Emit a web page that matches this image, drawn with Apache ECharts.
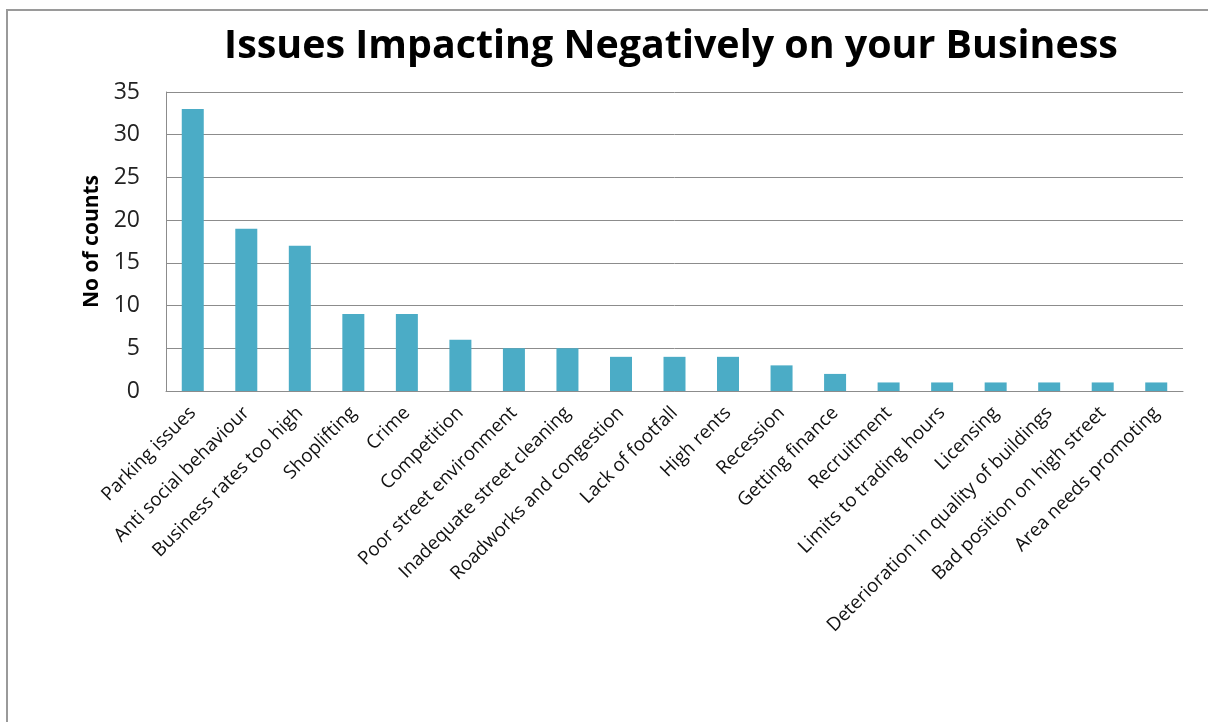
<!DOCTYPE html>
<html><head><meta charset="utf-8">
<script src="https://cdn.jsdelivr.net/npm/echarts@6/dist/echarts.min.js"></script>
<style>
html,body{margin:0;padding:0;background:#fff;width:1208px;height:722px;overflow:hidden;}
#frame{position:absolute;left:6px;top:9px;width:1210px;height:720px;border-left:2px solid #9a9a9a;border-top:2px solid #9a9a9a;}
#chart{position:absolute;left:0;top:0;width:1208px;height:722px;}
</style></head>
<body>
<div id="frame"></div>
<div id="chart"></div>
<script>
const titleText = 'Issues Impacting Negatively on your Business';
const yAxisName = 'No of counts';
const categories = ['Parking issues','Anti social behaviour','Business rates too high','Shoplifting','Crime','Competition','Poor street environment','Inadequate street cleaning','Roadworks and congestion','Lack of footfall','High rents','Recession','Getting finance','Recruitment','Limits to trading hours','Licensing','Deterioration in quality of buildings','Bad position on high street','Area needs promoting'];
const counts = [33,19,17,9,9,6,5,5,4,4,4,3,2,1,1,1,1,1,1];
const yTicks = {min:0, max:35, interval:5};

const chart = echarts.init(document.getElementById('chart'), null, {renderer:'canvas'});
chart.setOption({
  animation:false,
  backgroundColor:'transparent',
  title:{text:titleText,left:666,textAlign:'center',top:22,
    textStyle:{fontFamily:'Open Sans',fontWeight:'bold',fontSize:39.4,color:'#000'}},
  grid:{left:166,right:25,top:92,bottom:331,containLabel:false},
  xAxis:{type:'category',data:categories,
    axisLine:{lineStyle:{color:'#8c8c8c',width:1}},
    axisTick:{show:false},
    axisLabel:{interval:0,rotate:45,margin:19,fontFamily:'Open Sans',fontSize:18.8,color:'#111'}},
  yAxis:{type:'value',min:yTicks.min,max:yTicks.max,interval:yTicks.interval,
    name:yAxisName,nameLocation:'middle',nameGap:61,
    nameTextStyle:{fontFamily:'Open Sans',fontWeight:'bold',fontSize:21,color:'#000'},
    axisLine:{show:true,lineStyle:{color:'#8c8c8c',width:1}},
    axisTick:{show:false},
    splitLine:{lineStyle:{color:'#8c8c8c',width:1}},
    axisLabel:{margin:26,fontFamily:'Open Sans',fontSize:23,color:'#222'}},
  series:[{type:'bar',data:counts,barWidth:22,itemStyle:{color:'#4BACC6'}}]
});
</script>
</body></html>
